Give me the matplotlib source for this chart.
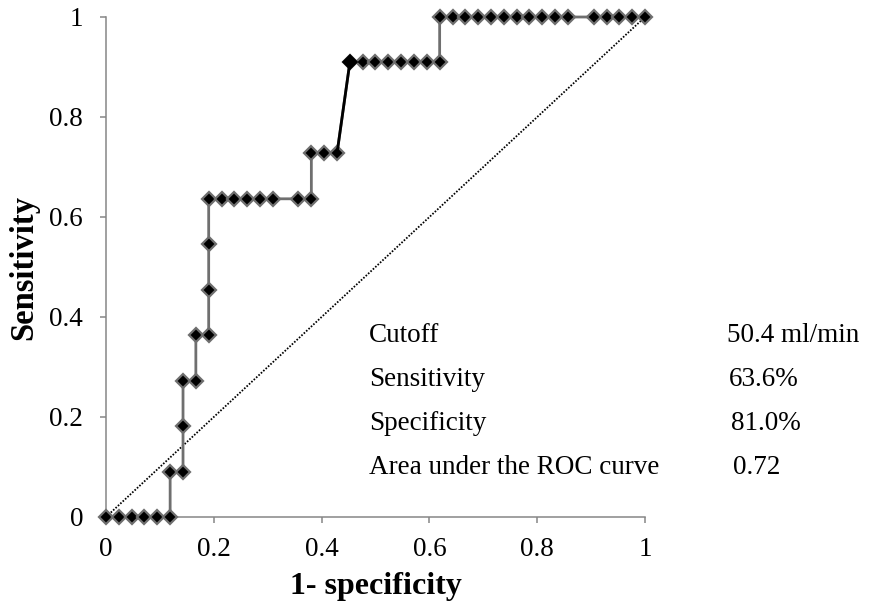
import matplotlib
matplotlib.use("Agg")
import matplotlib.pyplot as plt

# ------------------------------------------------------------
# Data
# ------------------------------------------------------------
fpr = [0.0, 0.0238, 0.0476, 0.0714, 0.0952, 0.1190,
       0.1190, 0.1429, 0.1429, 0.1429, 0.1667, 0.1667,
       0.1905, 0.1905, 0.1905, 0.1905,
       0.2143, 0.2381, 0.2619, 0.2857, 0.3095, 0.3571, 0.3810,
       0.3810, 0.4048, 0.4286,
       0.4524, 0.4762, 0.5000, 0.5238, 0.5476, 0.5714, 0.5952, 0.6190,
       0.6190, 0.6429, 0.6667, 0.6905, 0.7143, 0.7381, 0.7619, 0.7857,
       0.8095, 0.8333, 0.8571, 0.9048, 0.9286, 0.9524, 0.9762, 1.0]
tpr = [0.0, 0.0, 0.0, 0.0, 0.0, 0.0,
       0.0909, 0.0909, 0.1818, 0.2727, 0.2727, 0.3636,
       0.3636, 0.4545, 0.5455, 0.6364,
       0.6364, 0.6364, 0.6364, 0.6364, 0.6364, 0.6364, 0.6364,
       0.7273, 0.7273, 0.7273,
       0.9091, 0.9091, 0.9091, 0.9091, 0.9091, 0.9091, 0.9091, 0.9091,
       1.0, 1.0, 1.0, 1.0, 1.0, 1.0, 1.0, 1.0,
       1.0, 1.0, 1.0, 1.0, 1.0, 1.0, 1.0, 1.0]
highlight = 26   # index of the black (selected) point

stat_names = ["Cutoff", "Sensitivity", "Specificity", "Area under the ROC curve"]
stat_values = ["50.4 ml/min", "63.6%", "81.0%", "0.72"]

ticks = [0, 0.2, 0.4, 0.6, 0.8, 1]
tick_labels = ["0", "0.2", "0.4", "0.6", "0.8", "1"]

# ------------------------------------------------------------
# Style
# ------------------------------------------------------------
plt.rcParams["font.family"] = ["Liberation Serif", "DejaVu Serif"]
GRAY = "#868686"
LINE = "#6f6f6f"

fig = plt.figure(figsize=(8.74, 6.11), dpi=100)
ax = fig.add_axes([106 / 874, 1 - 517 / 611, 539 / 874, 500 / 611])

# reference diagonal
ax.plot([0, 1], [0, 1], color="black", linestyle=(0, (0.9, 0.9)), linewidth=1.3)

# ROC curve
ax.plot(fpr, tpr, color=LINE, linewidth=2.0, marker="D", markersize=7,
        markerfacecolor="black", markeredgecolor=LINE, markeredgewidth=1.6,
        clip_on=False, zorder=3)
ax.plot(fpr[highlight - 1:highlight + 1], tpr[highlight - 1:highlight + 1],
        color="black", linewidth=2.0, zorder=4, clip_on=False)
ax.plot(fpr[highlight], tpr[highlight], marker="D", markersize=7.5,
        color="black", markeredgewidth=1.2, zorder=5, clip_on=False)

ax.set_xlim(0, 1)
ax.set_ylim(0, 1)
ax.set_xticks(ticks)
ax.set_xticklabels(tick_labels)
ax.set_yticks(ticks)
ax.set_yticklabels(tick_labels)

for side in ["top", "right"]:
    ax.spines[side].set_visible(False)
for side in ["left", "bottom"]:
    ax.spines[side].set_color(GRAY)
    ax.spines[side].set_linewidth(1.1)
ax.tick_params(axis="both", direction="out", length=4.5, width=1.1,
               color=GRAY, labelsize=19.5)
ax.tick_params(axis="y", pad=12)
ax.tick_params(axis="x", pad=10)

ax.set_xlabel("1- specificity", fontsize=23, fontweight="bold", labelpad=7)
ax.set_ylabel("Sensitivity", fontsize=23.5, fontweight="bold", labelpad=7)

# statistics table
row_y = [0.364, 0.276, 0.188, 0.100]
value_x = [1.152, 1.155, 1.159, 1.164]
for name, val, y, vx in zip(stat_names, stat_values, row_y, value_x):
    ax.text(0.488, y, name, fontsize=19.5, va="center", ha="left")
    ax.text(vx, y, val, fontsize=19.5, va="center", ha="left", clip_on=False)

fig.savefig("out.png", dpi=100)
plt.close(fig)
